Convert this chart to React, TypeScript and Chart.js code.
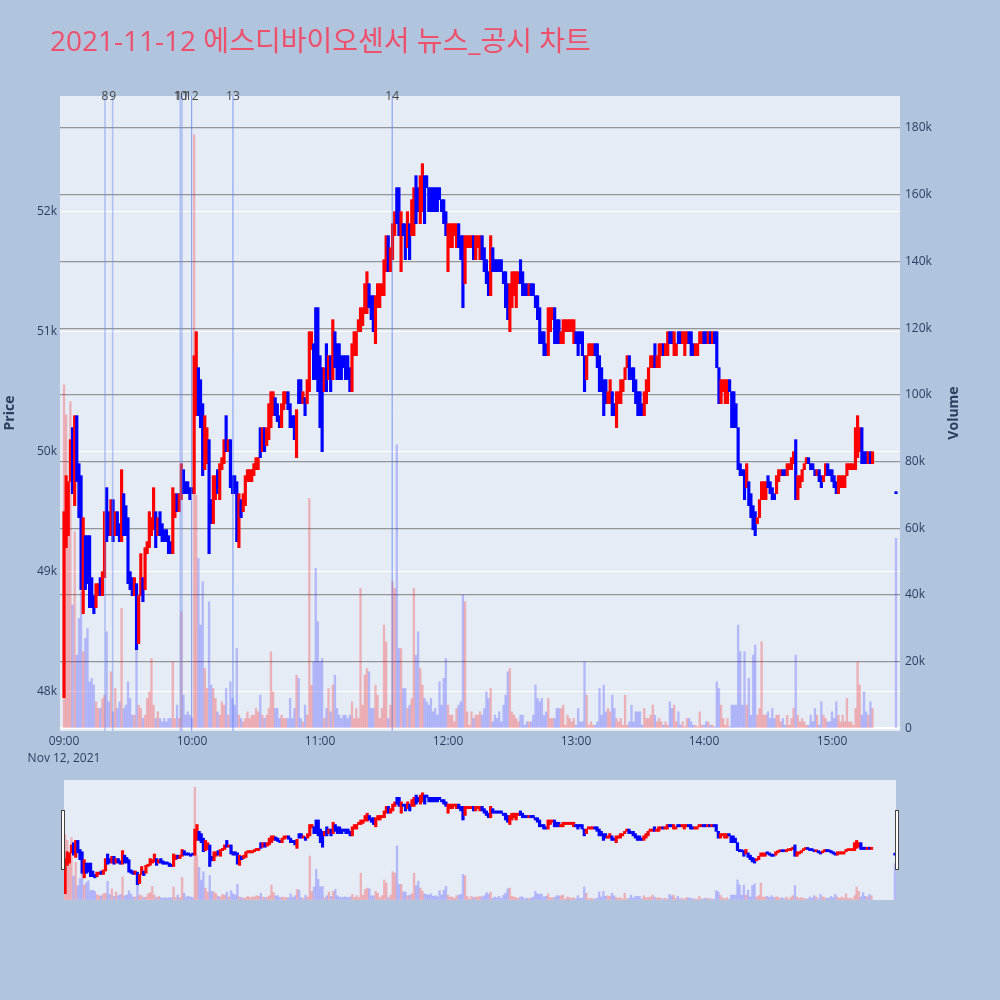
import React, { useEffect, useRef } from "react";
import { Chart, registerables } from "chart.js";

Chart.register(...registerables);

const titleText = "2021-11-12 에스디바이오센서 뉴스_공시 차트";
const sessionStart = "09:00";

// 1-minute candles from 09:00 (price in KRW)
const opens = [
  47950, 49200, 49300, 49750, 50200, 49550, 50300, 49900, 49800, 48650,
  49300, 49300, 49300, 48950, 48800, 48700, 48800, 48950, 48800, 48950,
  49700, 49500, 49300, 49600, 49300, 49500, 49400, 49250, 49650, 49550,
  49450, 49000, 48950, 48800, 48900, 48400, 48800, 48950, 48850, 49150,
  49200, 49300, 49350, 49500, 49300, 49500, 49400, 49350, 49350, 49300,
  49250, 49150, 49450, 49650, 49500, 49600, 49850, 49750, 49750, 49700,
  49700, 49650, 50300, 50700, 50600, 50400, 49850, 49900, 50100, 49600,
  49400, 49600, 49850, 49600, 49850, 49900, 50300, 50000, 50100, 49800,
  49800, 49750, 49200, 49600, 49500, 49550, 49750, 49750, 49750, 49800,
  49850, 49850, 50200, 50000, 50200, 50050, 50100, 50200, 50300, 50450,
  50400, 50300, 50200, 50350, 50400, 50500, 50400, 50300, 50300, 49950,
  50600, 50600, 50400, 50450, 50400, 50500, 50850, 50900, 51200, 51200,
  50800, 50700, 50500, 50900, 50600, 50800, 50600, 51000, 50900, 50900,
  50800, 50800, 50800, 50800, 50700, 50500, 50800, 50800, 51000, 51000,
  51050, 51150, 51150, 51400, 51300, 51300, 50900, 51200, 51200, 51300,
  51300, 51500, 51800, 51500, 51600, 51800, 52200, 52200, 51500, 51900,
  51900, 51700, 51900, 51800, 51800, 52300, 52200, 51900, 52000, 52300,
  52300, 52200, 52200, 52200, 52200, 52200, 52200, 52100, 52100, 52000,
  51500, 51700, 51700, 51800, 51700, 51900, 51800, 51800, 51400, 51700,
  51700, 51700, 51800, 51600, 51700, 51600, 51800, 51700, 51600, 51500,
  51300, 51700, 51600, 51600, 51600, 51600, 51500, 51500, 51400, 51000,
  51200, 51300, 51200, 51400, 51600, 51500, 51400, 51400, 51300, 51400,
  51400, 51300, 51300, 51200, 51000, 51000, 50900, 50800, 51000, 51100,
  51200, 51100, 51100, 50900, 50900, 51000, 51000, 51000, 51000, 50900,
  51000, 51000, 51000, 51000, 50800, 50600, 50800, 50800, 50800, 50900,
  50900, 50800, 50700, 50600, 50600, 50400, 50400, 50500, 50400, 50200,
  50400, 50400, 50500, 50600, 50700, 50800, 50700, 50700, 50600, 50500,
  50500, 50400, 50300, 50400, 50500, 50700, 50700, 50900, 50700, 50700,
  50800, 50900, 50800, 50800, 51000, 51000, 50800, 50800, 51000, 51000,
  50900, 50800, 50900, 51000, 51000, 50900, 50800, 50800, 50900, 50900,
  51000, 51000, 50900, 51000, 50900, 51000, 51000, 50700, 50400, 50500,
  50400, 50400, 50600, 50500, 50500, 50400, 50200, 49900, 49850, 49850,
  49700, 49750, 49650, 49550, 49500, 49400, 49450, 49600, 49600, 49600,
  49800, 49750, 49700, 49650, 49650, 49750, 49800, 49850, 49850, 49800,
  49850, 49850, 49900, 50100, 49600, 49700, 49750, 49850, 49900, 49950,
  49900, 49900, 49850, 49800, 49850, 49800, 49750, 49800, 49900, 49850,
  49850, 49800, 49750, 49650, 49700, 49700, 49700, 49800, 49850, 49850,
  49850, 49850, 49950, 50000, 50200, 50000, 50000, 49900, 50000, 49900,
];

const closes = [
  49500, 49800, 49750, 50100, 49650, 50300, 49750, 49450, 48850, 49450,
  48850, 48900, 48700, 48700, 48650, 48900, 48900, 48800, 49000, 49500,
  49250, 49300, 49600, 49250, 49500, 49300, 49250, 49850, 49300, 49300,
  48900, 48850, 48800, 48950, 48350, 48800, 49150, 48750, 49200, 49250,
  49500, 49450, 49700, 49200, 49450, 49300, 49250, 49250, 49250, 49150,
  49150, 49700, 49650, 49500, 49650, 49900, 49650, 49650, 49650, 49600,
  49650, 50800, 51000, 50300, 50200, 49800, 50300, 50200, 49150, 49400,
  49800, 49800, 49650, 49900, 49950, 50100, 50000, 50100, 49700, 49650,
  49650, 49250, 49650, 49450, 49650, 49800, 49850, 49850, 49850, 49900,
  49950, 49950, 49950, 50200, 50000, 50200, 50400, 50500, 50500, 50300,
  50250, 50200, 50400, 50500, 50500, 50350, 50200, 50200, 50100, 50350,
  50400, 50400, 50500, 50300, 50600, 51000, 51000, 50600, 50600, 50500,
  50200, 50000, 50700, 50500, 50800, 50500, 51100, 50700, 50600, 50600,
  50600, 50700, 50600, 50600, 50500, 50900, 51000, 51000, 51100, 51200,
  51200, 51400, 51500, 51200, 51100, 51000, 51300, 51400, 51400, 51400,
  51600, 51800, 51500, 51700, 51900, 52000, 51900, 51800, 52000, 51800,
  51600, 52000, 51600, 52100, 52200, 51900, 52000, 52300, 52400, 51900,
  52200, 52000, 52000, 52000, 52000, 52000, 52100, 52000, 51900, 51800,
  51900, 51900, 51900, 51900, 51900, 51700, 51600, 51200, 51800, 51800,
  51800, 51800, 51600, 51800, 51800, 51800, 51600, 51500, 51400, 51300,
  51800, 51500, 51500, 51500, 51500, 51500, 51400, 51200, 51100, 51400,
  51500, 51500, 51500, 51500, 51400, 51300, 51300, 51300, 51400, 51300,
  51300, 51200, 51100, 50900, 50900, 50800, 50800, 51200, 51200, 51200,
  50900, 50900, 50900, 51000, 51100, 51100, 51100, 51100, 51100, 51100,
  50900, 50800, 50900, 50800, 50500, 50800, 50900, 50900, 50900, 50800,
  50700, 50500, 50500, 50300, 50400, 50500, 50600, 50300, 50300, 50500,
  50500, 50600, 50600, 50700, 50800, 50600, 50600, 50500, 50400, 50300,
  50300, 50300, 50500, 50600, 50700, 50800, 50800, 50700, 50800, 50900,
  50900, 50800, 50900, 51000, 50900, 50900, 51000, 50900, 50900, 50900,
  51000, 51000, 51000, 50900, 50800, 50800, 50900, 50900, 51000, 51000,
  50900, 50900, 51000, 50900, 51000, 50900, 50700, 50400, 50600, 50600,
  50600, 50600, 50500, 50200, 50200, 50200, 49850, 49800, 49800, 49600,
  49900, 49550, 49450, 49350, 49300, 49450, 49600, 49750, 49750, 49750,
  49700, 49650, 49600, 49600, 49800, 49850, 49850, 49800, 49800, 49900,
  49900, 49950, 50000, 49600, 49800, 49800, 49850, 49900, 49950, 49900,
  49850, 49850, 49800, 49850, 49750, 49700, 49800, 49900, 49800, 49800,
  49750, 49700, 49650, 49800, 49800, 49800, 49800, 49900, 49900, 49900,
  49900, 50200, 50300, 50200, 49900, 49900, 49900, 50000, 49900, 50000,
];

// traded volume per minute, thousands of shares
const volumeThousands = [
  103, 94, 60, 98, 37, 59, 22, 33, 41, 23,
  27, 30, 14, 15, 13, 8, 6, 6, 9, 10,
  29, 8, 17, 5, 12, 6, 8, 36, 6, 7,
  14, 9, 4, 4, 24, 7, 6, 3, 4, 9,
  11, 21, 7, 3, 5, 3, 2, 3, 2, 3,
  3, 20, 3, 7, 3, 35, 10, 4, 5, 4,
  3, 178, 70, 51, 31, 44, 18, 12, 38, 13,
  12, 9, 5, 4, 8, 7, 12, 4, 14, 9,
  7, 24, 4, 3, 2, 3, 5, 3, 4, 4,
  6, 5, 10, 4, 3, 4, 6, 23, 11, 6,
  6, 3, 4, 3, 3, 3, 9, 3, 6, 16,
  15, 3, 2, 7, 4, 69, 13, 20, 48, 32,
  20, 21, 3, 6, 12, 5, 13, 16, 6, 4,
  3, 4, 4, 3, 4, 8, 3, 6, 3, 42,
  7, 16, 18, 17, 6, 6, 13, 10, 3, 6,
  31, 26, 3, 7, 44, 42, 85, 24, 24, 12,
  12, 6, 7, 9, 42, 22, 29, 18, 13, 9,
  8, 7, 9, 5, 6, 4, 14, 7, 15, 21,
  7, 4, 4, 2, 6, 7, 8, 40, 38, 5,
  1, 5, 3, 4, 4, 5, 4, 6, 11, 9,
  12, 2, 4, 3, 5, 2, 7, 10, 17, 18,
  5, 4, 3, 2, 4, 4, 1, 2, 2, 2,
  4, 13, 9, 8, 9, 4, 5, 9, 3, 3,
  3, 6, 6, 6, 7, 1, 4, 3, 2, 3,
  1, 6, 2, 2, 20, 10, 1, 2, 1, 1,
  2, 12, 4, 13, 5, 6, 5, 10, 6, 3,
  2, 3, 1, 10, 1, 2, 7, 2, 5, 5,
  5, 1, 6, 3, 3, 4, 7, 4, 2, 3,
  2, 1, 2, 1, 8, 6, 7, 2, 5, 1,
  2, 0.5, 3, 3, 2, 1, 1, 0.5, 5, 1,
  1, 2, 2, 1, 1, 0.5, 14, 12, 7, 3,
  1, 3, 0.5, 7, 7, 7, 31, 23, 7, 23,
  7, 15, 4, 22, 25, 4, 6, 26, 4, 4,
  5, 3, 6, 3, 4, 4, 2, 3, 1, 4,
  1, 3, 6, 22, 4, 2, 3, 2, 1, 1,
  4, 2, 6, 4, 1, 8, 4, 3, 2, 2,
  5, 3, 8, 4, 2, 4, 2, 9, 2, 2,
  1, 6, 20, 13, 4, 11, 5, 4, 8, 6,
];

// closing auction
const auctionTime = "15:30";
const auctionOpen = 49650;
const auctionClose = 49650;
const auctionVolume = 57000;

// news / disclosure markers
const newsLabels = ["8", "9", "10", "11", "12", "13", "14"];
const newsTimes = ["09:19:12", "09:22:48", "09:54:30", "09:55:18", "09:59:51", "10:19:12", "11:33:50"];

const xTickTimes = ["09:00", "10:00", "11:00", "12:00", "13:00", "14:00", "15:00"];
const xTickLabels: (string | string[])[] = [["09:00", "Nov 12, 2021"], "10:00", "11:00", "12:00", "13:00", "14:00", "15:00"];
const priceTicks = [48000, 49000, 50000, 51000, 52000];
const volumeTicks = [0, 20000, 40000, 60000, 80000, 100000, 120000, 140000, 160000, 180000];

const toMinutes = (t: string) => {
  const [h, m, s = "0"] = t.split(":");
  const [bh, bm] = sessionStart.split(":");
  return (Number(h) - Number(bh)) * 60 + (Number(m) - Number(bm)) + Number(s) / 60;
};

const UP = "#ff0000";
const DOWN = "#0000ff";
const UP_VOL = "rgba(255,0,0,0.25)";
const DOWN_VOL = "rgba(0,0,255,0.22)";
const TICK_COLOR = "#2a3f5f";
const FONT = "'Open Sans', 'Noto Sans CJK KR', sans-serif";

const PRICE_MIN = 47672;
const PRICE_MAX = 52964;
const VOL_MIN = -750;
const VOL_MAX = 189600;

function buildSeries() {
  const xs = [...opens.map((_, i) => toMinutes(sessionStart) + i), toMinutes(auctionTime)];
  const o = [...opens, auctionOpen];
  const c = [...closes, auctionClose];
  const v = [...volumeThousands.map((k) => k * 1000), auctionVolume];
  const up = o.map((ov, i) => c[i] > ov);
  return { xs, o, c, v, up };
}

function makeDatasets(candleWidth: number, volWidth: number) {
  const { xs, o, c, v, up } = buildSeries();
  return [
    {
      type: "bar" as const,
      label: "Volume",
      yAxisID: "yv",
      data: xs.map((x, i) => ({ x, y: v[i] })),
      backgroundColor: up.map((u) => (u ? UP_VOL : DOWN_VOL)),
      barThickness: volWidth,
      grouped: false,
      order: 2,
    },
    {
      type: "bar" as const,
      label: "Price",
      yAxisID: "yp",
      data: xs.map((x, i) => ({ x, y: [Math.min(o[i], c[i]), Math.max(o[i], c[i])] })),
      backgroundColor: up.map((u) => (u ? UP : DOWN)),
      barThickness: candleWidth,
      minBarLength: 2,
      grouped: false,
      order: 1,
    },
  ];
}

const plotBg = {
  id: "plotBg",
  beforeDraw(chart: any) {
    const { ctx, chartArea } = chart;
    ctx.save();
    ctx.fillStyle = "#e5ecf6";
    ctx.fillRect(chartArea.left, chartArea.top, chartArea.right - chartArea.left, chartArea.bottom - chartArea.top);
    ctx.restore();
  },
};

const decorations = {
  id: "decorations",
  afterDatasetsDraw(chart: any) {
    const { ctx, chartArea, scales } = chart;
    const faint = new Set(["8", "9", "10", "11"]);
    ctx.save();
    newsTimes.forEach((t, i) => {
      const x = scales.x.getPixelForValue(toMinutes(t));
      const isFaint = faint.has(newsLabels[i]);
      ctx.strokeStyle = isFaint ? "rgba(110,140,235,0.45)" : "rgba(80,115,240,0.7)";
      ctx.lineWidth = isFaint ? 1.6 : 1;
      ctx.beginPath();
      ctx.moveTo(x, chartArea.top);
      ctx.lineTo(x, chartArea.bottom);
      ctx.stroke();
    });
    ctx.fillStyle = "#444";
    ctx.font = `12px ${FONT}`;
    ctx.textAlign = "center";
    ctx.textBaseline = "middle";
    newsTimes.forEach((t, i) => {
      const x = scales.x.getPixelForValue(toMinutes(t));
      ctx.fillText(newsLabels[i], x, chartArea.top + 1);
    });
    ctx.restore();
  },
  afterDraw(chart: any) {
    const { ctx } = chart;
    ctx.save();
    ctx.fillStyle = "#ee4f6b";
    ctx.font = `28px ${FONT}`;
    ctx.textAlign = "left";
    ctx.textBaseline = "alphabetic";
    ctx.fillText(titleText, 50, 51);

    ctx.fillStyle = TICK_COLOR;
    ctx.font = `bold 14px ${FONT}`;
    ctx.textAlign = "center";
    ctx.textBaseline = "middle";
    ctx.translate(10, 413);
    ctx.rotate(-Math.PI / 2);
    ctx.fillText("Price", 0, 0);
    ctx.restore();

    ctx.save();
    ctx.fillStyle = TICK_COLOR;
    ctx.font = `bold 14px ${FONT}`;
    ctx.textAlign = "center";
    ctx.textBaseline = "middle";
    ctx.translate(954, 413);
    ctx.rotate(-Math.PI / 2);
    ctx.fillText("Volume", 0, 0);
    ctx.restore();
  },
};

function mainConfig(): any {
  return {
    type: "bar",
    data: { datasets: makeDatasets(2.5, 1.7) },
    plugins: [plotBg, decorations],
    options: {
      animation: false,
      responsive: false,
      events: [],
      layout: { padding: { top: 96, left: 0, right: 0, bottom: 0 } },
      plugins: { legend: { display: false }, tooltip: { enabled: false }, title: { display: false } },
      scales: {
        x: {
          type: "linear",
          min: -1.875,
          max: 391.875,
          offset: false,
          grid: { display: false, drawTicks: false },
          border: { display: false },
          ticks: {
            padding: 3,
            color: TICK_COLOR,
            font: { family: FONT, size: 12, lineHeight: 1.34 },
            maxRotation: 0,
            autoSkip: false,
            callback: (_v: any, i: number) => xTickLabels[i],
          },
          afterBuildTicks: (s: any) => {
            s.ticks = xTickTimes.map((t) => ({ value: toMinutes(t) }));
          },
          afterFit: (s: any) => {
            s.height = 269;
          },
        },
        yp: {
          type: "linear",
          position: "left",
          min: PRICE_MIN,
          max: PRICE_MAX,
          grid: { color: "#ffffff", lineWidth: 1, drawTicks: false },
          border: { display: false },
          ticks: {
            padding: 3,
            color: TICK_COLOR,
            font: { family: FONT, size: 12 },
            callback: (v: any) => `${Number(v) / 1000}k`,
          },
          afterBuildTicks: (s: any) => {
            s.ticks = priceTicks.map((v) => ({ value: v }));
          },
          afterFit: (s: any) => {
            s.width = 60;
          },
        },
        yv: {
          type: "linear",
          position: "right",
          min: VOL_MIN,
          max: VOL_MAX,
          grid: {
            drawTicks: false,
            color: (ctx: any) => (ctx.tick && ctx.tick.value === 0 ? "#ffffff" : "rgba(128,128,128,0.8)"),
            lineWidth: (ctx: any) => (ctx.tick && ctx.tick.value === 0 ? 2 : 1.2),
          },
          border: { display: false },
          ticks: {
            padding: 5,
            color: TICK_COLOR,
            font: { family: FONT, size: 12 },
            callback: (v: any) => (Number(v) === 0 ? "0" : `${Number(v) / 1000}k`),
          },
          afterBuildTicks: (s: any) => {
            s.ticks = volumeTicks.map((v) => ({ value: v }));
          },
          afterFit: (s: any) => {
            s.width = 100;
          },
        },
      },
    },
  };
}

function sliderConfig(): any {
  return {
    type: "bar",
    data: { datasets: makeDatasets(2.5, 1.7) },
    plugins: [plotBg],
    options: {
      animation: false,
      responsive: false,
      events: [],
      layout: { padding: 0 },
      plugins: { legend: { display: false }, tooltip: { enabled: false } },
      scales: {
        x: { type: "linear", min: -0.5, max: 390.5, offset: false, display: false },
        yp: { type: "linear", position: "left", min: PRICE_MIN, max: PRICE_MAX, display: false },
        yv: { type: "linear", position: "right", min: VOL_MIN, max: VOL_MAX, display: false },
      },
    },
  };
}

const handleStyle = (left: number): React.CSSProperties => ({
  position: "absolute",
  left,
  top: 810,
  width: 2,
  height: 58,
  background: "#ffffff",
  border: "1px solid #444",
});

export default function App() {
  const mainRef = useRef<HTMLCanvasElement>(null);
  const sliderRef = useRef<HTMLCanvasElement>(null);

  useEffect(() => {
    const main = new Chart(mainRef.current as HTMLCanvasElement, mainConfig());
    const slider = new Chart(sliderRef.current as HTMLCanvasElement, sliderConfig());
    return () => {
      main.destroy();
      slider.destroy();
    };
  }, []);

  return (
    <div
      style={{
        position: "absolute",
        left: 0,
        top: 0,
        width: 1000,
        height: 1000,
        background: "#b0c4de",
        overflow: "hidden",
      }}
    >
      <canvas ref={mainRef} width={1000} height={1000} style={{ position: "absolute", left: 0, top: 0 }} />
      <canvas ref={sliderRef} width={832} height={120} style={{ position: "absolute", left: 64, top: 780 }} />
      <div style={handleStyle(61)} />
      <div style={handleStyle(895)} />
    </div>
  );
}
